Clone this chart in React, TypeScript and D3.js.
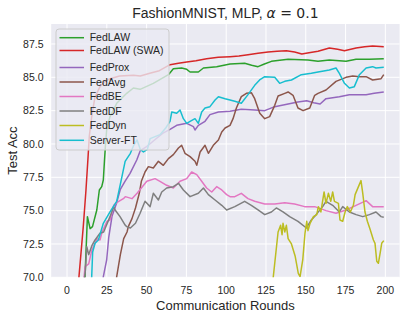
import React from 'react';
import * as d3 from 'd3';

type Pt = [number, number];

// [round, test accuracy]
const fedLAW: Pt[] = [[10.8,69],[11.3,70.05],[12.8,74.55],[14.5,73.65],[16,73.8],[18.7,75.05],[20.3,76.55],[21.8,76.8],[22.8,77.3],[23.5,78.7],[24.2,80],[25,81.2],[27,82.05],[31.2,83.05],[37.5,83.8],[41.7,84.2],[45.9,84.1],[54.2,84.55],[63.7,85.2],[66.8,85.65],[72,85.7],[75.2,85.6],[77.3,85.4],[82.5,85.4],[85.7,85.7],[94,85.8],[102.4,86.0],[111.6,86.05],[116,85.9],[120,85.8],[124,86.0],[128.4,86.2],[138.9,86.35],[151.4,86.3],[157.7,86.2],[164.8,86.3],[175.3,86.2],[181.6,86.35],[190,86.35],[199,86.4]];
const fedLAWSwa: Pt[] = [[6,67],[7.5,70.05],[10.2,73.8],[11.9,76.55],[13.2,79],[14,80.6],[15.5,82.05],[17.5,83.5],[20.7,84.3],[24,84.7],[27,84.9],[33,85.1],[41.7,85.15],[46,85.1],[52,85.3],[58,85.5],[64.7,85.95],[70,86.05],[75.2,86.15],[81,86.25],[87.7,86.4],[95,86.5],[102.4,86.55],[108,86.6],[113.7,86.7],[120,86.8],[126.3,86.9],[132,86.95],[137.8,87.0],[143,86.9],[147.5,86.75],[152,86.85],[157.7,86.95],[164.8,87.2],[170,87.1],[174.3,87.0],[181.6,87.2],[187,87.3],[192,87.35],[199,87.3]];
const fedProx: Pt[] = [[21.5,68.5],[22.8,70.05],[24.9,71.3],[26.2,73],[28.3,74.6],[31.2,75.6],[33.5,76.6],[36.4,77.2],[39.6,77.8],[43.8,78.8],[46,79.5],[50,79.8],[55,80.3],[60,80.8],[64.7,81.1],[68.9,81.4],[75.2,81.55],[79.4,81.3],[80.4,81.05],[82.5,81.4],[86.7,81.7],[89.8,82.2],[95.1,82.4],[102.4,82.45],[109.5,82.6],[117.9,82.55],[124.2,82.5],[130.5,82.8],[138.9,83.0],[145,83.15],[150.6,83.25],[155,83.1],[159,83.0],[162.7,83.4],[171.1,83.55],[177.4,83.7],[187.9,83.7],[193,83.8],[199,83.9]];
const fedAvg: Pt[] = [[30,68.5],[31.2,70.05],[33.5,71.7],[35.6,72.9],[37.7,73.4],[38.5,73.8],[40.8,74.4],[43,75.2],[45.4,76.3],[46.7,77.2],[49,77.9],[51.1,78.3],[54.2,78.2],[57.4,78.7],[60.5,78.4],[63.7,78.9],[66.8,79.2],[70,79.7],[72,79.9],[74.1,79.3],[77.3,79.05],[80.4,78.7],[81.5,78.4],[83.6,79.4],[86.7,79.9],[88.8,79.3],[91.9,79.9],[95.1,80.3],[97.2,80.9],[99.3,81.2],[102.4,81.4],[104.3,81.9],[106.4,82.7],[109.5,83.55],[112.7,83.8],[115.8,83.85],[117.9,83.4],[121.1,82.3],[124.2,81.9],[127.3,82.05],[130.5,82.9],[132.6,83.6],[136.8,83.8],[138.9,83.9],[142,83.65],[145.1,82.7],[148.3,82.5],[152.5,82.7],[155.6,83.65],[157.7,83.8],[162.7,84.05],[169,84.7],[175.3,85.0],[179.5,85.1],[183.7,85.05],[187.9,85.05],[192,84.8],[197.3,84.9],[199,85.2]];
const fedBE: Pt[] = [[10,69],[11.3,70.8],[13.6,71],[15.5,72],[18.8,72.9],[20.7,72.8],[22,73.4],[25.1,74.2],[27,74.3],[29.3,75.4],[31.2,75.6],[35.4,75.9],[36.6,76.05],[40.8,75.9],[44,76.3],[46.7,76.7],[50.1,77.2],[55.3,77.4],[58.4,77.2],[62.6,76.9],[66.8,76.7],[71,77.2],[75.2,77.4],[78.3,77.9],[81.5,77.7],[84.6,77.2],[87.7,76.7],[90.9,76.4],[94,76.8],[97.2,76.55],[100.3,76.2],[102.4,76.05],[105.4,76.05],[109.5,76.3],[113.7,75.9],[117.9,75.7],[124.2,75.5],[130.5,75.5],[136.8,75.6],[143,75.5],[149.3,75.3],[155.6,75.3],[162.7,75.0],[169,74.8],[175.3,75.05],[181.6,75.4],[187.9,75.75],[192,75.3],[199,75.3]];
const fedDF: Pt[] = [[10,69],[11.5,70.5],[12.4,72.3],[13.6,71.7],[15.7,72.4],[17.6,72.8],[20.7,73.3],[23,73.4],[27,74.55],[29.3,75.3],[30.2,75.05],[33.3,74.55],[36.6,73.9],[37.5,73.8],[39.8,73.7],[43,74.05],[45.9,74.8],[49,75.7],[52.2,75.3],[54.2,76.3],[57.4,75.8],[59.5,76.4],[62.6,76.7],[66.8,76.8],[70,77.05],[73.1,76.55],[77.3,76.05],[82.5,76.3],[85.7,76.7],[88.8,76.2],[93,75.8],[97.2,75.4],[100.3,75.05],[105.4,75.3],[111.6,75.7],[115.8,75.4],[120,75.05],[124.2,74.7],[128.4,74.9],[131.5,75.2],[135.7,74.9],[139.9,74.55],[145.1,74.2],[150.4,73.7],[153.5,74.3],[156.5,74.7],[160.6,75.3],[162.7,75.7],[166.9,75.4],[171.1,74.9],[173.2,75.3],[177.4,74.9],[181.6,74.7],[185.8,74.55],[190,74.7],[194.1,74.9],[197.3,74.55],[199,74.5]];
const fedDyn: Pt[] = [[129,69],[129.6,70.05],[132.6,73.4],[134.2,73.9],[135.1,73.2],[135.7,74.05],[136.8,73.4],[137.8,73.9],[138.9,72.9],[141,72.5],[143.3,71.6],[145.3,70.3],[146.4,70.05],[148.1,71.3],[149.5,73.3],[150.6,74.2],[151.4,73.5],[152.7,74.05],[154.8,74.55],[156.9,74.7],[157.9,75.3],[159.5,74.9],[161.5,76.4],[162.7,75.55],[164.2,76.3],[165.7,75.7],[166.9,76.4],[168,75.7],[170.5,75.55],[171.5,74.3],[173.2,74.2],[174.7,74.9],[176.1,75.3],[178,74.9],[179.9,75.4],[181,76.2],[183.1,76.8],[184.7,77.25],[185.8,76.3],[187.2,74.9],[188.7,74.2],[190.4,73.6],[192.5,72.8],[193.5,72.55],[194.6,71.2],[195.6,71.05],[196.7,71.8],[197.7,72.55],[199,72.75]];
const serverFT: Pt[] = [[14.5,68.5],[15.5,70.05],[16.1,71.9],[17.6,72.55],[19.7,72.8],[22.8,74.05],[27,74.9],[31.2,75.7],[34.4,77.5],[36.5,78.7],[39.8,79.3],[41.9,79.9],[44,80.3],[46,79.6],[48,79.4],[50.5,79.6],[52.2,80.4],[58.4,80.7],[62,81.2],[64.7,81.7],[65.8,82.4],[68.9,82.3],[71,82.55],[73.1,81.9],[75.2,81.55],[77.3,81.7],[80.4,81.9],[82.5,81.55],[84.6,82.4],[86.7,82.7],[89.8,82.8],[93,83.3],[95.1,83.55],[99.3,83.4],[102.4,83.3],[105.4,83.2],[109.5,83.05],[113.7,83.7],[117.9,84.4],[121,84.8],[124.2,85.05],[130.5,85.0],[133.6,84.55],[136.8,84.7],[141,84.8],[147.2,85.2],[153.5,85.3],[157.7,85.4],[164.8,85.55],[169,85.7],[171.1,85.3],[174.3,84.55],[177.4,84.2],[180.5,84.3],[183.7,85.2],[187.9,85.7],[192,85.8],[194.1,85.7],[199,85.75]];

const seriesNames = ['FedLAW', 'FedLAW (SWA)', 'FedProx', 'FedAvg', 'FedBE', 'FedDF', 'FedDyn', 'Server-FT'];
const seriesData = [fedLAW, fedLAWSwa, fedProx, fedAvg, fedBE, fedDF, fedDyn, serverFT];
const seriesColors = ['#2ca02c', '#d62728', '#9467bd', '#8c564b', '#e377c2', '#7f7f7f', '#bcbd22', '#17becf'];
const xTicks = [0, 25, 50, 75, 100, 125, 150, 175, 200];
const yTicks = [70, 72.5, 75, 77.5, 80, 82.5, 85, 87.5];

const W = 407, H = 319;
const left = 51.2, right = 399.6, top = 24, bottom = 277.3;
const font = '"Liberation Sans", Arial, sans-serif';
const ink = '#262626';

export default function App() {
  const x = d3.scaleLinear().domain([-9.95, 208.95]).range([left, right]);
  const y = d3.scaleLinear().domain([70, 89]).range([bottom, top]);
  const line = d3.line<Pt>().x(d => x(d[0])).y(d => y(d[1]));

  // legend handle rows (px), uneven like the original
  const legendRows = [37.7, 50.5, 67.5, 82, 96.5, 111, 125.5, 140.3];

  return (
    <svg width={W} height={H} style={{ position: 'fixed', left: 0, top: 0, background: '#fff' }}>
      <defs>
        <clipPath id="plot">
          <rect x={left} y={top} width={right - left} height={bottom - top} />
        </clipPath>
      </defs>
      <rect x={left} y={top} width={right - left} height={bottom - top} fill="#EAEAF2" />
      {xTicks.map(t => (
        <line key={'gx' + t} x1={x(t)} x2={x(t)} y1={top} y2={bottom} stroke="#fff" strokeWidth={1} />
      ))}
      {yTicks.map(t => (
        <line key={'gy' + t} x1={left} x2={right} y1={y(t)} y2={y(t)} stroke="#fff" strokeWidth={1} />
      ))}
      <g clipPath="url(#plot)">
        {seriesData.map((d, i) => (
          <path key={seriesNames[i]} d={line(d) || ''} fill="none" stroke={seriesColors[i]}
            strokeWidth={1.5} strokeLinejoin="round" />
        ))}
      </g>
      {xTicks.map(t => (
        <text key={'tx' + t} x={x(t)} y={294} textAnchor="middle" fontFamily={font} fontSize={10.5} fill={ink}>{t}</text>
      ))}
      {yTicks.map(t => (
        <text key={'ty' + t} x={43.5} y={y(t)} dy="0.35em" textAnchor="end" fontFamily={font} fontSize={10.5} fill={ink}>{t.toFixed(1)}</text>
      ))}
      <text x={(left + right) / 2} y={309.5} textAnchor="middle" fontFamily={font} fontSize={13} fill={ink}>Communication Rounds</text>
      <text transform={`translate(17,${(top + bottom) / 2}) rotate(-90)`} textAnchor="middle" fontFamily={font} fontSize={13} fill={ink}>Test Acc</text>
      <text x={(left + right) / 2} y={18} textAnchor="middle" fontFamily={font} fontSize={14} fill={ink}>
        FashionMNIST, MLP, <tspan fontFamily="'DejaVu Sans'" fontStyle="italic">α</tspan>
        <tspan fontFamily="'DejaVu Sans'"> = 0.1</tspan>
      </text>
      <g>
        <rect x={56} y={29} width={113} height={121} rx={3} fill="#EAEAF2" fillOpacity={0.8} stroke="#cccccc" strokeWidth={1} />
        {seriesNames.map((n, i) => (
          <g key={'lg' + n}>
            <line x1={59.5} x2={84} y1={legendRows[i]} y2={legendRows[i]} stroke={seriesColors[i]} strokeWidth={1.5} />
            <text x={89.7} y={legendRows[i]} dy="0.35em" fontFamily={font} fontSize={10.5} fill={ink}>{n}</text>
          </g>
        ))}
      </g>
    </svg>
  );
}
